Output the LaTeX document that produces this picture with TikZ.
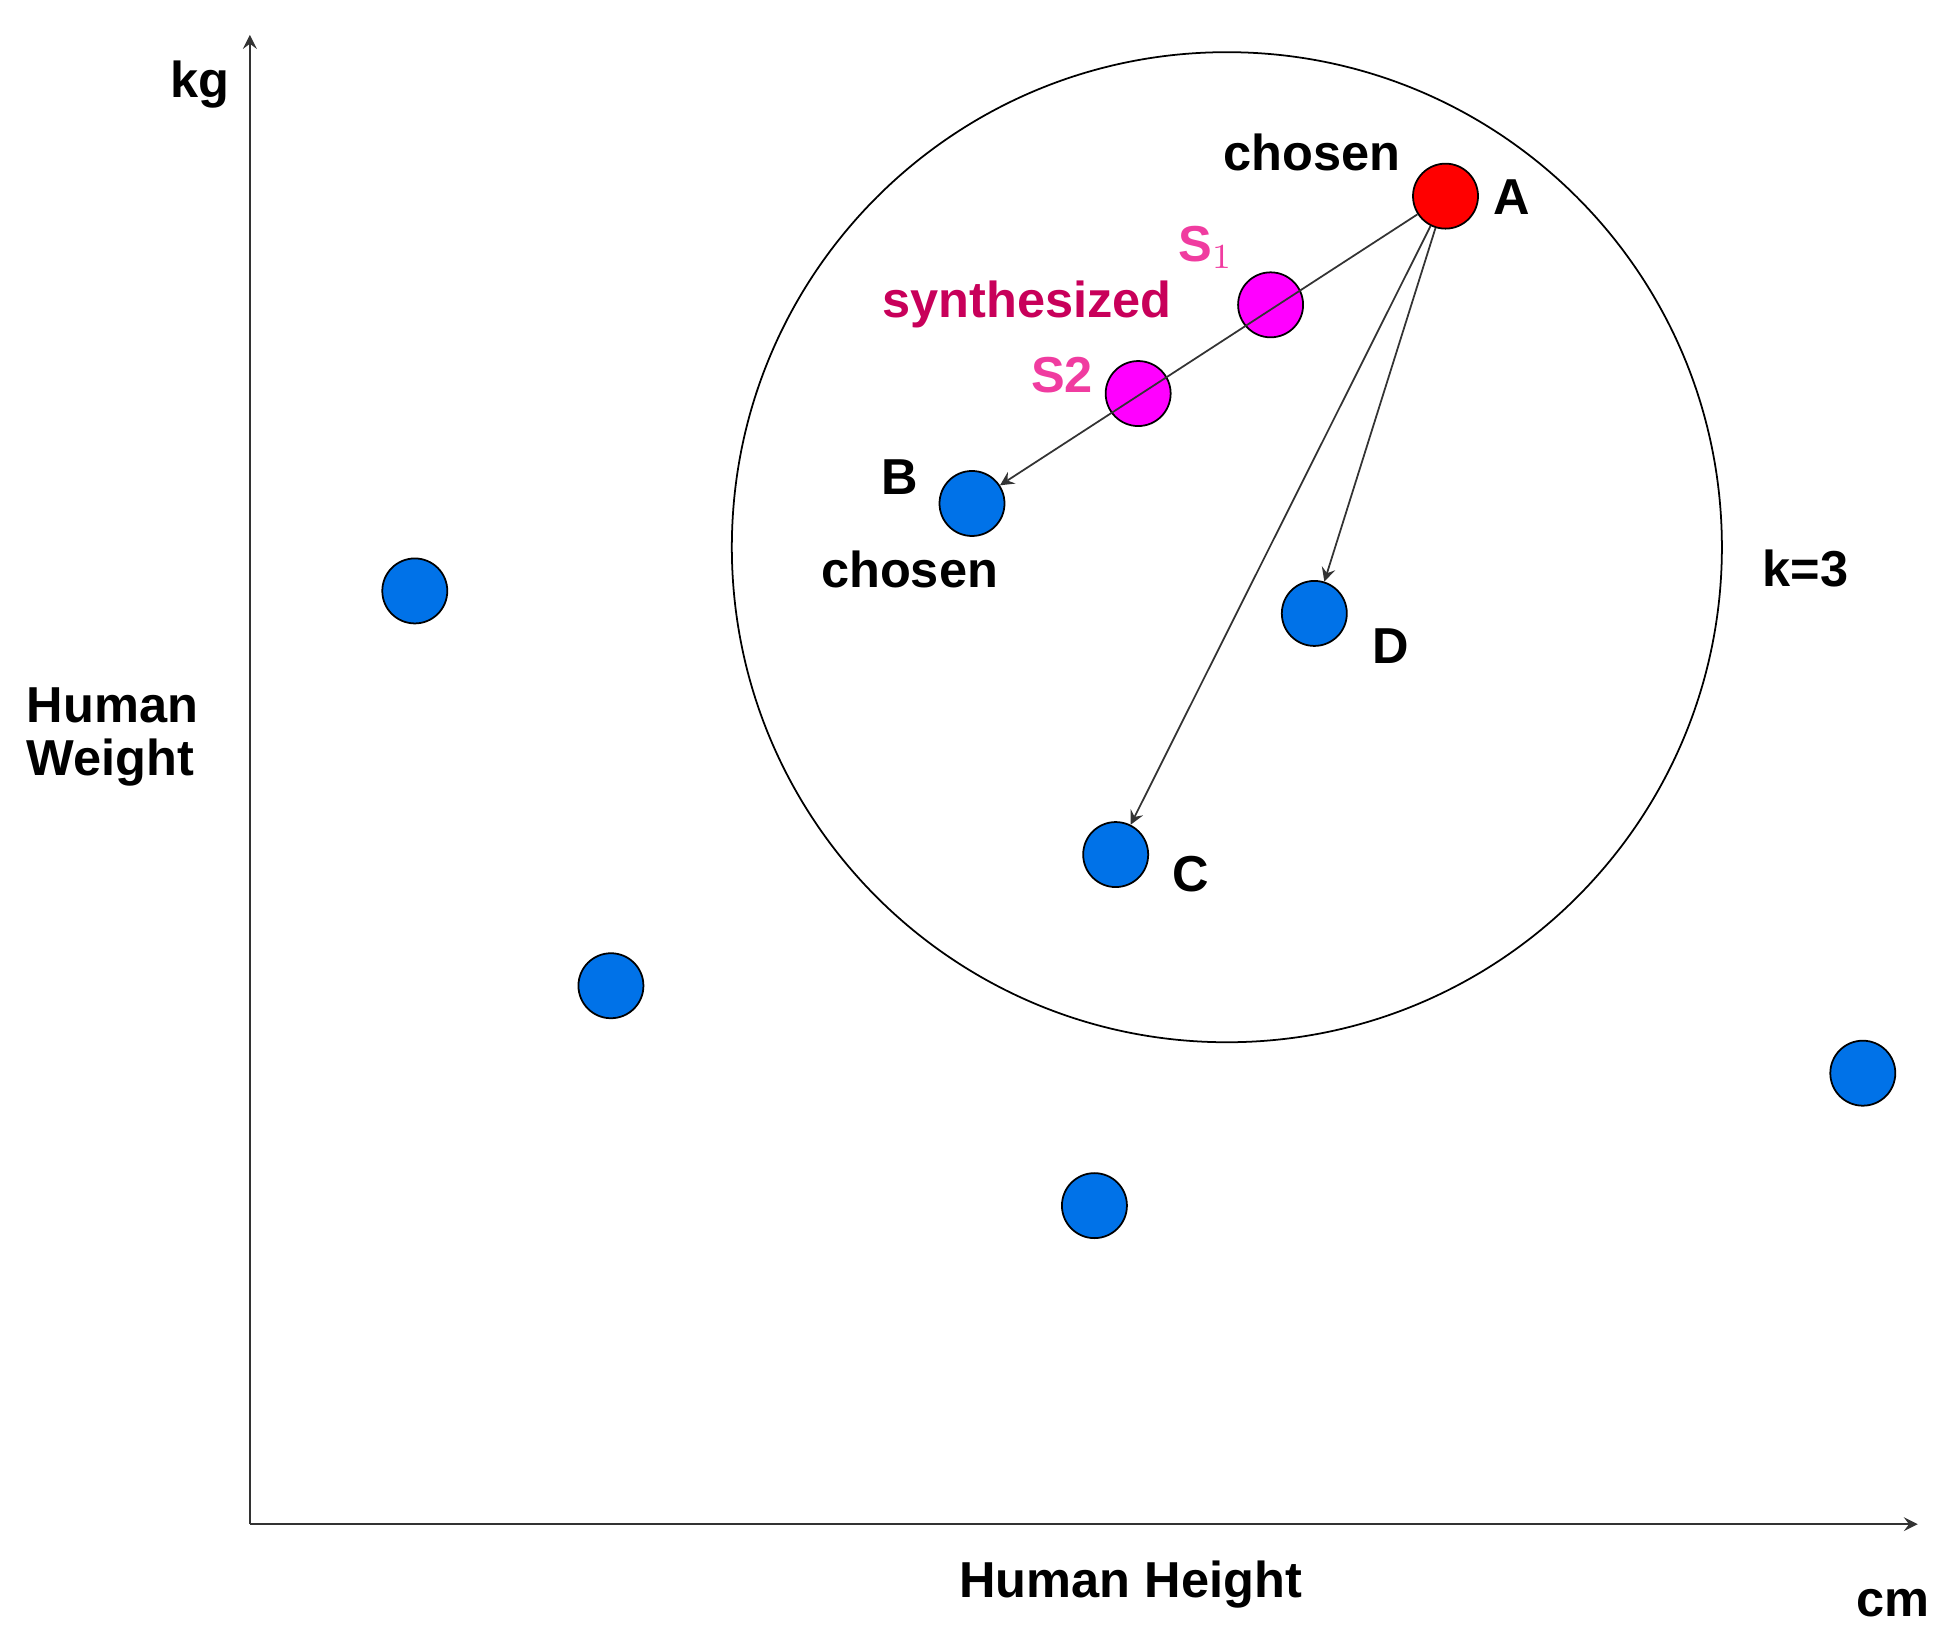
\documentclass[tikz,border=0pt]{standalone}
\usepackage{fontspec}
\setmainfont{Liberation Sans}
\usepackage{xcolor}
\definecolor{ptblue}{RGB}{0,114,232}
\definecolor{ptmag}{RGB}{255,0,255}
\definecolor{lblpink}{RGB}{240,60,160}
\definecolor{synred}{RGB}{200,0,90}
\begin{document}
\begin{tikzpicture}[x=0.01cm,y=-0.01cm,
  pt/.style={circle,draw=black,thin,minimum size=0.52cm,inner sep=0pt},
  lbl/.style={font=\bfseries\fontsize{11.5}{13}\selectfont},
  arr/.style={->,>=stealth,thin,black!80}]
\useasboundingbox (0,0) rectangle (1560,1316);
% axes
\coordinate (o) at (200,1220);
\coordinate (ytop) at (200,28);
\coordinate (xend) at (1535,1220);
\draw[->,>=stealth,black!80] (o) -- (ytop);
\draw[->,>=stealth,black!80] (o) -- (xend);
\node[lbl] (kg) at (160,68) {kg};
\node[lbl] (cm) at (1515,1283) {cm};
\node[lbl] (hh) at (905,1268) {Human Height};
\node[lbl,align=left] (hw) at (90,590) {Human\\[-1pt]Weight};
% neighbourhood
\node[circle,draw,thin,minimum size=7.92cm] (ring) at (982,438) {};
\node[lbl] (k) at (1445,455) {k=3};
% points
\node[pt,fill=red] (A) at (1157,157) {};
\node[pt,fill=ptmag] (S1) at (1017,244) {};
\node[pt,fill=ptmag] (S2) at (911,315) {};
\node[pt,fill=ptblue] (B) at (778,403) {};
\node[pt,fill=ptblue] (D) at (1052,491) {};
\node[pt,fill=ptblue] (C) at (893,684) {};
\node[pt,fill=ptblue] (p1) at (332,473) {};
\node[pt,fill=ptblue] (p2) at (489,789) {};
\node[pt,fill=ptblue] (p3) at (876,965) {};
\node[pt,fill=ptblue] (p4) at (1491,859) {};
% labels
\node[lbl] (lA) at (1210,158) {A};
\node[lbl] (cA) at (1050,122) {chosen};
\node[lbl] (lB) at (720,382) {B};
\node[lbl] (cB) at (728,456) {chosen};
\node[lbl] (lD) at (1113,517) {D};
\node[lbl] (lC) at (953,700) {C};
\node[lbl,text=lblpink] (lS1) at (965,198) {S$_1$};
\node[lbl,text=lblpink] (lS2) at (850,300) {S2};
\node[lbl,text=synred] (syn) at (822,244) {synthesized};
% links
\draw[arr] (A) -- (B);
\draw[arr] (A) -- (D);
\draw[arr] (A) -- (C);
\end{tikzpicture}
\end{document}
